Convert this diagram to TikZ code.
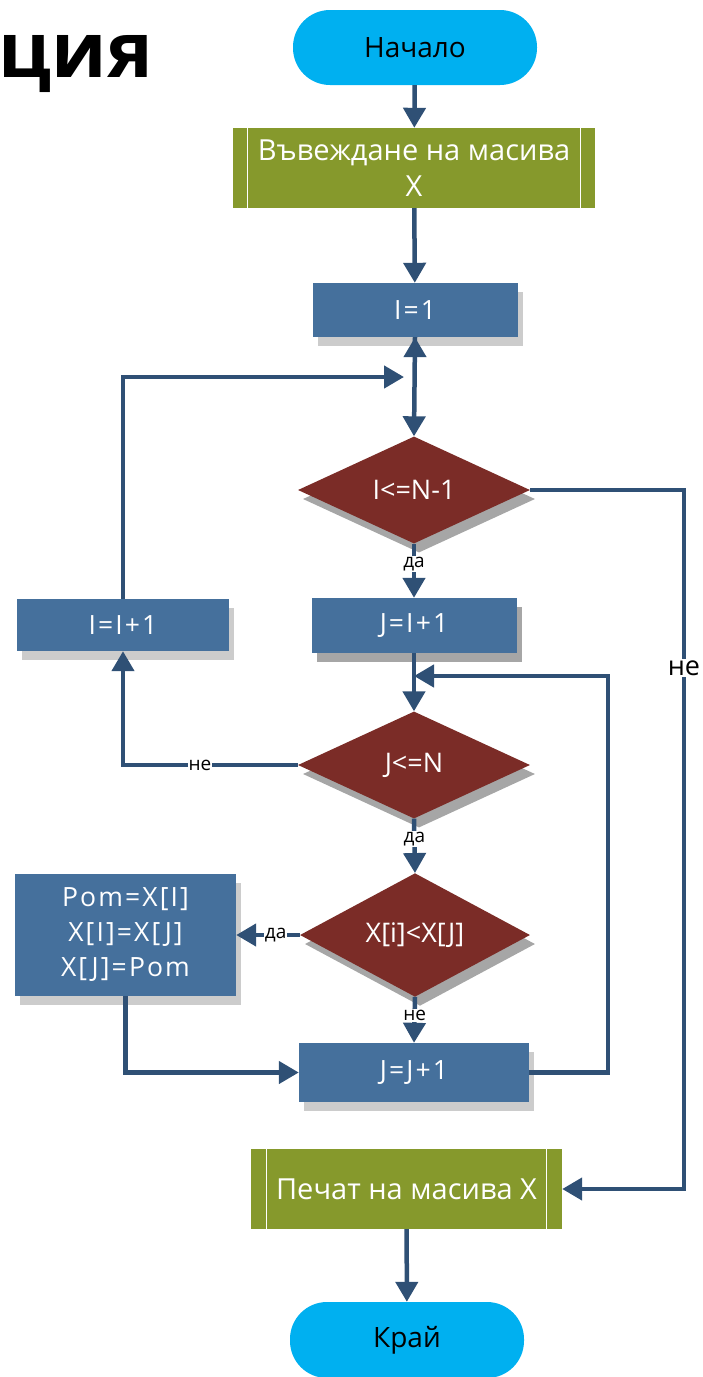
\documentclass[tikz,border=0pt]{standalone}
\usepackage{fontspec}
\setmainfont{Open Sans}
\newfontfamily\procfont[LetterSpace=8]{Open Sans}
\usetikzlibrary{shapes.geometric,arrows.meta,shadows,calc}
\definecolor{cyanT}{RGB}{0,176,240}
\definecolor{oliveB}{RGB}{134,153,44}
\definecolor{blueB}{RGB}{69,112,156}
\definecolor{redD}{RGB}{123,44,39}
\definecolor{lineC}{RGB}{47,80,117}
\begin{document}
\begin{tikzpicture}[x=1pt,y=-1pt,
  terminal/.style={rectangle, rounded corners=37pt, fill=cyanT, text=black, inner sep=0pt,
    font=\fontsize{28}{34}\selectfont},
  iobox/.style={rectangle, fill=oliveB, text=white, inner sep=0pt, align=center,
    font=\fontsize{29}{36}\selectfont},
  procbox/.style={rectangle, fill=blueB, text=white, inner sep=0pt, align=center,
    font=\procfont\fontsize{26.5}{35}\selectfont},
  lightshadow/.style={drop shadow={shadow xshift=5pt, shadow yshift=-9pt, fill=black!20, opacity=1}},
  darkshadow/.style={drop shadow={shadow xshift=5pt, shadow yshift=-9pt, fill=black!35, opacity=1}},
  decision/.style={diamond, fill=redD, text=white, inner sep=0pt,
    font=\fontsize{27}{33}\selectfont, darkshadow},
  conn/.style={draw=lineC, line width=4.5pt, -{Triangle[width=22pt,length=20pt]}},
  lbl/.style={fill=white, text=black, inner sep=1pt, font=\fontsize{19}{22}\selectfont},
  bigLbl/.style={fill=white, text=black, inner sep=2pt, font=\fontsize{27}{30}\selectfont}
]
\useasboundingbox (0,0) rectangle (702,1377);

% title fragment
\node[anchor=base east, inner sep=0pt, font=\fontsize{77}{84}\selectfont\bfseries] (title) at (153,77) {ция};

% nodes
\node[terminal, minimum width=244pt, minimum height=75pt] (start) at (415,47.5) {Начало};
\node[iobox, minimum width=362pt, minimum height=80pt] (input) at (414,168) {Въвеждане на масива\\X};
\node[procbox, lightshadow, minimum width=205pt, minimum height=54pt] (i1) at (415,310) {I=1};
\node[decision, minimum width=232pt, minimum height=107pt] (d1) at (414,490) {I<=N-1};
\node[procbox, lightshadow, minimum width=212pt, minimum height=52pt] (inc) at (123,625) {I=I+1};
\node[procbox, darkshadow, minimum width=205pt, minimum height=55pt] (ji1) at (414,625.5) {J=I+1};
\node[decision, minimum width=232pt, minimum height=107pt] (d2) at (414,765) {J<=N};
\node[decision, minimum width=230pt, minimum height=106pt] (d3) at (415,935) {X[i]<X[J]};
\node[procbox, lightshadow, minimum width=221pt, minimum height=122pt] (pom) at (125.5,935) {Pom=X[I]\\X[I]=X[J]\\X[J]=Pom};
\node[procbox, lightshadow, minimum width=230pt, minimum height=59pt] (jj1) at (414,1072.5) {J=J+1};
\node[iobox, minimum width=311pt, minimum height=80pt] (print) at (406.5,1189) {Печат на масива X};
\node[terminal, minimum width=234pt, minimum height=76pt] (end) at (407,1340) {Край};

% inner lines of the I/O boxes
\draw[white, line width=1pt] ($(input.north west)+(15,0)$) -- ($(input.south west)+(15,0)$);
\draw[white, line width=1pt] ($(input.north east)+(-15,0)$) -- ($(input.south east)+(-15,0)$);
\draw[white, line width=1pt] ($(print.north west)+(16,0)$) -- ($(print.south west)+(16,0)$);
\draw[white, line width=1pt] ($(print.north east)+(-16,0)$) -- ($(print.south east)+(-16,0)$);

% junction coordinates
\coordinate (jn1) at (i1.south |- 0,377);
\coordinate (jn2) at (ji1.south |- 0,676);
\coordinate (rc) at (684,800);
\coordinate (lc) at (608,900);

% connectors
\draw[conn] (start) -- (input);
\draw[conn] (input) -- (i1);
\draw[conn] (i1.south) -- (d1.north);
\draw[conn] (jn1) -- (i1.south);
\draw[conn, shorten >=11pt] (inc.north) |- (jn1);
\draw[conn] (d1.south) -- node[lbl, pos=0.38] (l1) {да} (ji1.north);
\draw[conn] (d1.east) -| (rc) |- (print.east);
\node[bigLbl] (l2) at (684,668) {не};
\draw[conn] (ji1.south) -- (d2.north);
\draw[conn] (jj1.east) -| (lc) |- (jn2);
\draw[conn] (d2.west) -| node[lbl, pos=0.28] (l3) {не} (inc.south);
\draw[conn] (d2.south) -- node[lbl, pos=0.37] (l4) {да} (d3.north);
\draw[conn] (d3.west) -- node[lbl, pos=0.38] (l5) {да} (pom.east);
\draw[conn] (d3.south) -- node[lbl, pos=0.4] (l6) {не} (jj1.north);
\draw[conn] (pom.south) |- (jj1.west);
\draw[conn] (print) -- (end);
\end{tikzpicture}
\end{document}
